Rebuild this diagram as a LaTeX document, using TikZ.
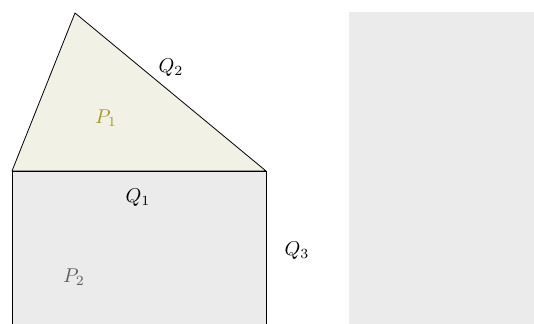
\documentclass[tikz,border=0pt]{standalone}
\begin{document}
\begin{tikzpicture}[x=0.5pt,y=-0.5pt,
  lbl/.style={inner sep=0pt},
]
\definecolor{trifill}{RGB}{242,241,230}
\definecolor{boxfill}{RGB}{235,235,235}
\definecolor{olivetxt}{RGB}{165,155,40}
\definecolor{graytxt}{RGB}{95,95,95}
\useasboundingbox (0,0) rectangle (534,324);
\fill[boxfill] (349,12) rectangle (534,324);
\fill[boxfill] (12,171) rectangle (266,324);
\draw (12,324) -- (12,171) -- (266,171) -- (266,324);
\filldraw[fill=trifill,line join=round] (12,171) -- (75,13) -- (266,171) -- cycle;
\node[lbl,text=olivetxt] (p1) at (106,118) {$P_1$};
\node[lbl] (q2) at (171,68) {$Q_2$};
\node[lbl] (q1) at (138,198) {$Q_1$};
\node[lbl] (q3) at (297,251) {$Q_3$};
\node[lbl,text=graytxt] (p2) at (74,277) {$P_2$};
\end{tikzpicture}
\end{document}
